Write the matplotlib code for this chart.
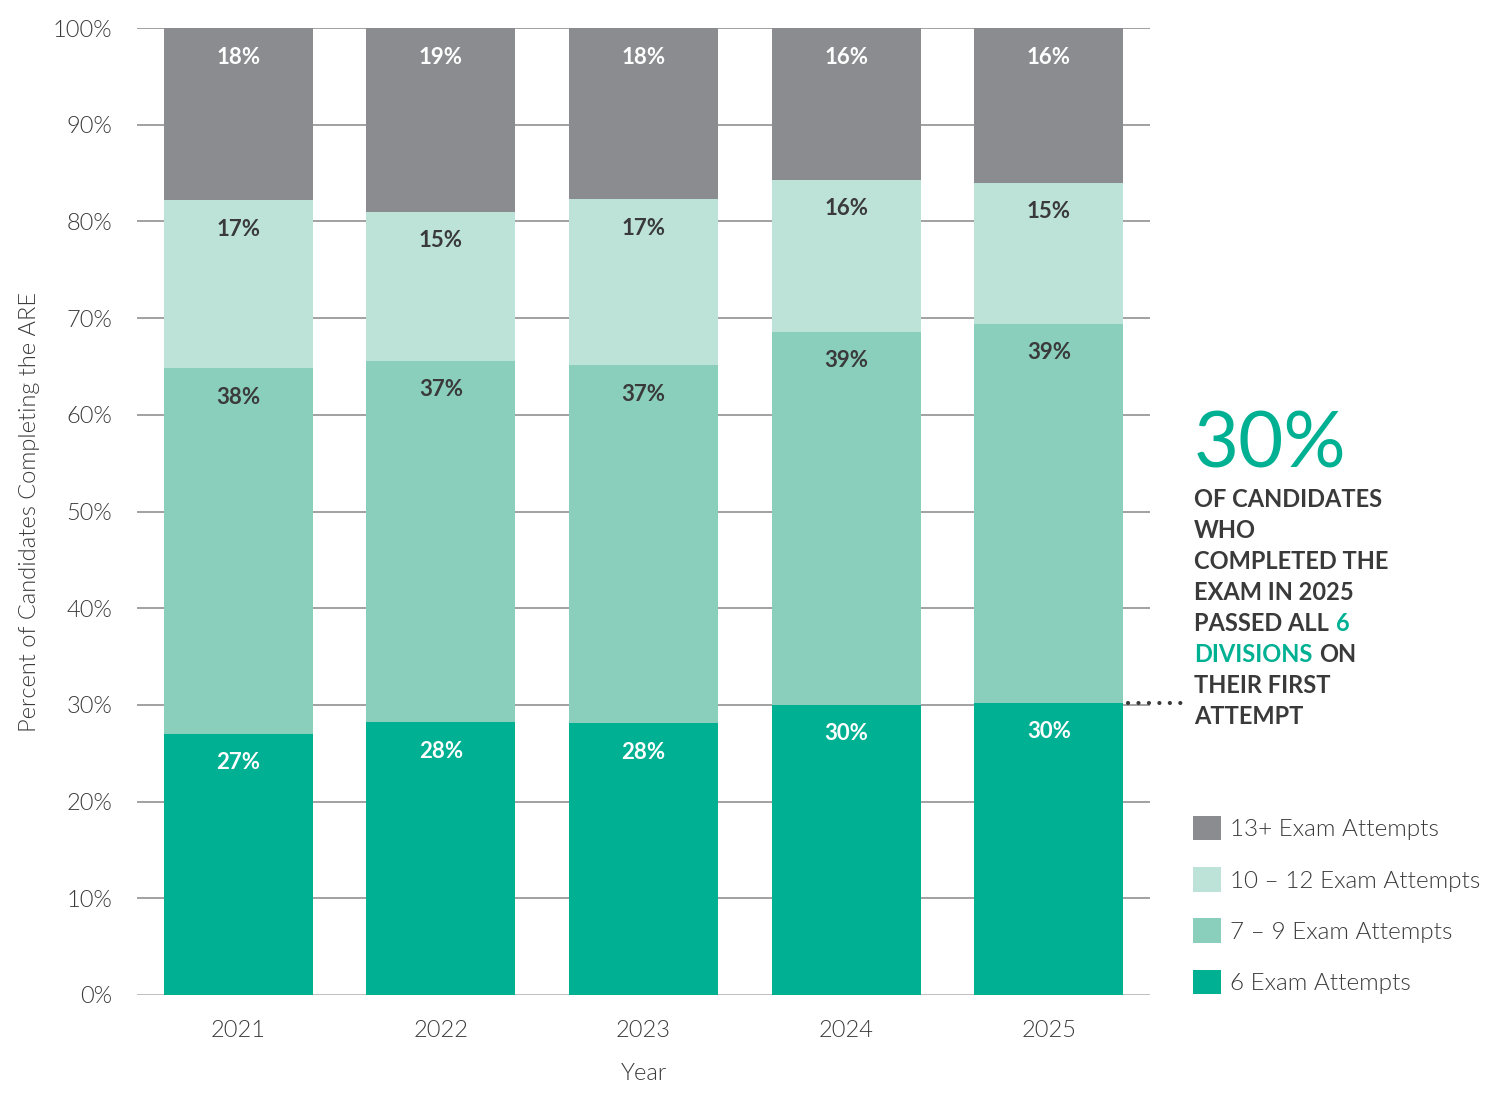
import numpy as np
import matplotlib.pyplot as plt
from matplotlib.patches import Patch

plt.rcParams['font.family'] = ['Lato', 'DejaVu Sans']

years = ['2021', '2022', '2023', '2024', '2025']
# segment shares (percent of candidates), bottom to top
six_attempts = [27.0, 28.2, 28.1, 30.0, 30.2]
seven_nine = [37.8, 37.4, 37.0, 38.6, 39.2]
ten_twelve = [17.4, 15.4, 17.2, 15.7, 14.6]
thirteen_plus = [17.8, 19.0, 17.7, 15.7, 16.0]

series = [six_attempts, seven_nine, ten_twelve, thirteen_plus]
names = ['6 Exam Attempts', '7 \u2013 9 Exam Attempts', '10 \u2013 12 Exam Attempts', '13+ Exam Attempts']
colors = ['#00b092', '#89cfbc', '#bde3d8', '#8b8c8f']
label_colors = ['white', '#3a3a3a', '#3a3a3a', 'white']

dark = '#3a3a3a'
teal = '#00b092'
light_w = 300

fig = plt.figure(figsize=(15, 11.08), dpi=100)
ax = fig.add_axes([0.0913, 0.102, 0.6754, 0.8727])

x = np.arange(len(years))
bottom = np.zeros(len(years))
for vals, col, lc in zip(series, colors, label_colors):
    vals = np.array(vals)
    ax.bar(x, vals, bottom=bottom, width=0.735, color=col, zorder=2)
    for xi, b, v in zip(x, bottom, vals):
        ax.text(xi, b + v - 3.0, f'{round(v)}%', ha='center', va='center',
                fontsize=16, fontweight='bold', color=lc, zorder=3)
    bottom += vals

ax.set_xlim(-0.5, 4.5)
ax.set_ylim(0, 100)
ax.set_yticks(np.arange(0, 101, 10))
ax.set_yticklabels([f'{v}%' for v in range(0, 101, 10)])
ax.set_xticks(x)
ax.set_xticklabels(years)
ax.yaxis.grid(True, color='#9a9a9a', linewidth=1.3, zorder=0)
ax.set_axisbelow(True)
for s in ax.spines.values():
    s.set_visible(False)
ax.axhline(0, color='#c4c4c4', linewidth=2, zorder=1)
ax.tick_params(axis='both', length=0, labelsize=17, labelcolor=dark)
ax.tick_params(axis='y', pad=18)
ax.tick_params(axis='x', pad=18)
for lab in ax.get_xticklabels() + ax.get_yticklabels():
    lab.set_fontweight(light_w)
ax.set_ylabel('Percent of Candidates Completing the ARE', fontsize=17,
              fontweight=light_w, color=dark)
ax.yaxis.set_label_coords(-0.0958, 0.5)
ax.set_xlabel('Year', fontsize=17, fontweight=light_w, color=dark, labelpad=16)

# dotted leader from the 2025 bar to the callout
ax.plot([4.39, 4.665], [six_attempts[-1], six_attempts[-1]], linestyle=(0, (0.01, 2.5)),
        color=dark, linewidth=3, clip_on=False, dash_capstyle='round',
        solid_capstyle='round', zorder=4)

# callout text
fig.text(0.796, 0.5785, '30%', fontsize=56, color=teal, fontweight='normal',
         va='baseline', ha='left')
lines = ['OF CANDIDATES', 'WHO', 'COMPLETED THE', 'EXAM IN 2025',
         'PASSED ALL', 'DIVISIONS', 'THEIR FIRST', 'ATTEMPT']
line_colors = [dark, dark, dark, dark, dark, teal, dark, dark]
y0 = 0.542
step = 31 / 1108
texts = []
for i, (ln, c) in enumerate(zip(lines, line_colors)):
    t = fig.text(0.796, y0 - i * step, ln, fontsize=17, fontweight='bold',
                 color=c, va='baseline', ha='left')
    texts.append(t)
ax.annotate('6', xy=(1, 0), xycoords=texts[4], xytext=(5, 0),
            textcoords='offset points', fontsize=17, fontweight='bold',
            color=teal, va='bottom', ha='left', annotation_clip=False)
ax.annotate('ON', xy=(1, 0), xycoords=texts[5], xytext=(5, 0),
            textcoords='offset points', fontsize=17, fontweight='bold',
            color=dark, va='bottom', ha='left', annotation_clip=False)

handles = [Patch(facecolor=c, edgecolor='none') for c in colors[::-1]]
leg = fig.legend(handles, names[::-1], loc='upper left',
                 bbox_to_anchor=(0.795, 0.2635), frameon=False, fontsize=17.5,
                 handlelength=1.17, handleheight=1.17, handletextpad=0.38,
                 labelspacing=1.1, borderaxespad=0, borderpad=0)
for t in leg.get_texts():
    t.set_color(dark)
    t.set_fontweight(light_w)

fig.savefig('out.png', dpi=100, facecolor='white')
